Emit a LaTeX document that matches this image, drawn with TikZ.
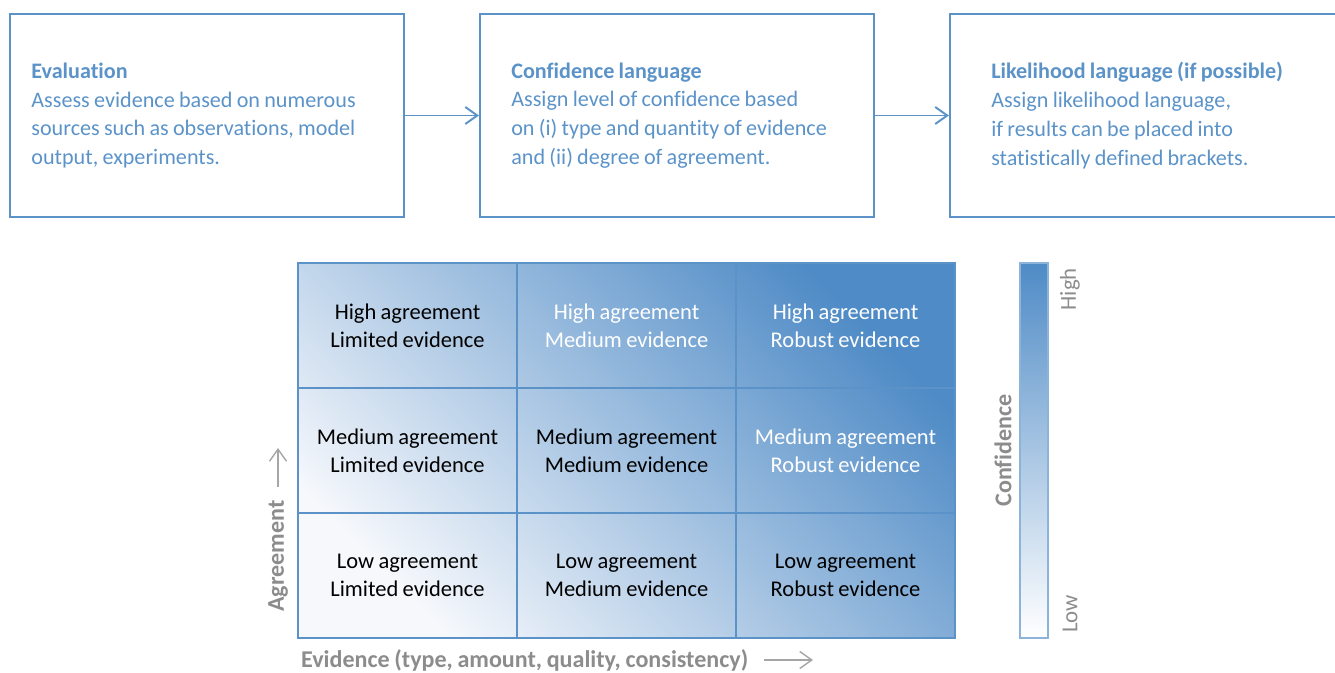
\documentclass[tikz,border=0pt]{standalone}
\usepackage{fontspec}
\setmainfont{Carlito}[WordSpace=0.85, Ligatures=NoCommon]
\usetikzlibrary{positioning, arrows.meta, shadings}
\definecolor{ipccblue}{HTML}{5B93C9}
\definecolor{gridblue}{HTML}{4F8BC6}
\definecolor{midfill}{HTML}{B3C8E6}
\definecolor{palefill}{HTML}{F6F8FC}
\definecolor{labelgray}{HTML}{8C8C8C}
\definecolor{arrowgray}{HTML}{A6A6A6}

\begin{document}
\begin{tikzpicture}[
  stepbox/.style={
    rectangle,
    draw=ipccblue, line width=1.1pt,
    minimum width=7.88cm,
    minimum height=4.06cm
  },
  steptext/.style={
    anchor=west,
    inner sep=0pt,
    align=left,
    text=ipccblue,
    font=\fontsize{12.6}{16.4}\selectfont
  },
  cell/.style={rectangle, draw=ipccblue, line width=0.7pt, minimum width=4.38cm, minimum height=2.5cm,
    align=center, font=\fontsize{12.8}{15.9}\selectfont},
  axis label/.style={text=labelgray, font=\bfseries\fontsize{13.7}{16}\selectfont},
  scale label/.style={text=labelgray, font=\fontsize{13}{15}\selectfont},
  >={Straight Barb[length=2.4mm,width=3.4mm]}, %open arrow tips
  flow/.style={draw=ipccblue, line width=1.1pt},
  axis arrow/.style={draw=arrowgray, line width=0.8pt},
  node distance=1.48cm
  ]
\useasboundingbox (0,0) rectangle (26.7,13.44);
% the three steps
\node[stepbox] (eval) at (4.14,11.13) {};
\node[stepbox, right=of eval] (conf) {};
\node[stepbox, right=of conf] (like) {};
\node[steptext] (evaltext) at ([xshift=0.44cm]eval.west) {\textbf{Evaluation}\\Assess evidence based on numerous\\sources such as observations, model\\output, experiments.};
\node[steptext] (conftext) at ([xshift=0.64cm]conf.west) {\textbf{Confidence language}\\Assign level of confidence based\\on (i) type and quantity of evidence\\and (ii) degree of agreement.};
\node[steptext] (liketext) at ([xshift=0.84cm]like.west) {\textbf{Likelihood language (if possible)}\\Assign likelihood language,\\if results can be placed into\\statistically defined brackets.};
\path[flow] (eval) edge[->] (conf)
            (conf) edge[->] (like);
% agreement / evidence matrix
\shade[shading=axis, bottom color=palefill, middle color=midfill, top color=gridblue, shading angle=-45] (5.96,0.68) rectangle (19.1,8.18);
\foreach \agr [count=\r from 0] in {Low,Medium,High}{
  \foreach \evi [count=\c from 0] in {Limited,Medium,Robust}{
    \ifnum\numexpr\r+\c\relax>2 \def\ink{white}\else\def\ink{black}\fi
    \node[cell, text=\ink] (cell-\r-\c) at ({8.15+4.38*\c},{1.93+2.5*\r}) {\agr{} agreement\\\evi{} evidence};
  }
}
\node[axis label, rotate=90, anchor=west] (agree) at (5.56,1.08) {Agreement};
\coordinate (agreetip) at (5.56,4.48);
\node[axis label, anchor=west] (evid) at (5.9,0.24) {Evidence (type, amount, quality, consistency)};
\coordinate (evidtip) at (16.26,0.24);
\path[axis arrow] (agree) edge[->, shorten <=0.15cm] (agreetip)
                  (evid) edge[->, shorten <=0.2cm] (evidtip);
% confidence scale
\node[rectangle, draw=ipccblue!70, line width=0.6pt, minimum width=0.56cm, minimum height=7.5cm,
  inner sep=0pt, top color=gridblue, bottom color=white] (bar) at (20.68,4.43) {};
\node[axis label, rotate=90] (conflabel) at (20.06,4.43) {Confidence};
\node[scale label, rotate=90, anchor=east] (high) at (21.4,8.2) {High};
\node[scale label, rotate=90, anchor=west] (low) at (21.4,0.66) {Low};
\end{tikzpicture}
\end{document}
